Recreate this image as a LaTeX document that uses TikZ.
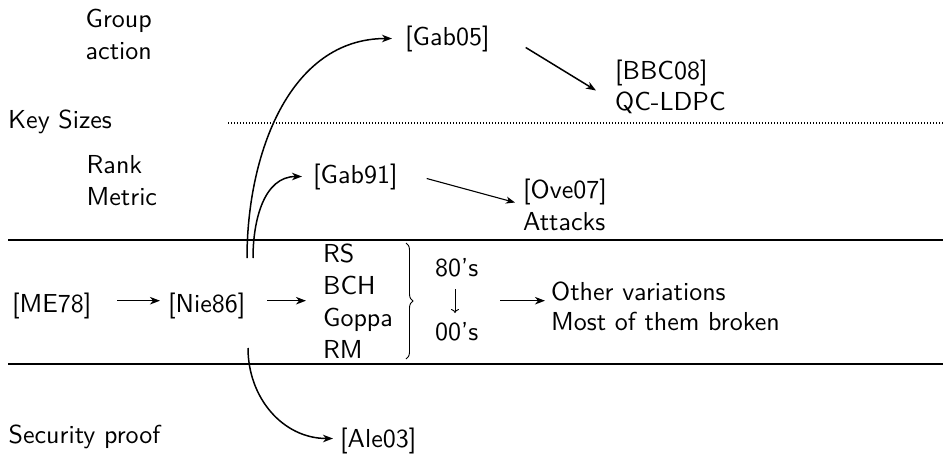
\documentclass[tikz,border=0pt]{standalone}
\usepackage{fontspec}
\setsansfont{lmsans10-regular}[Extension=.otf]
\usetikzlibrary{arrows.meta,decorations.pathreplacing}
\begin{document}
\begin{tikzpicture}[x=1pt,y=-1pt,
  txt/.style={anchor=base west, inner sep=0pt, font=\sffamily\fontsize{26}{31.5}\selectfont},
  arr/.style={line width=1.5pt, -{Stealth[length=10pt,width=7.5pt,inset=3pt]}},
  lightarr/.style={line width=1.1pt, -{Stealth[length=9pt,width=7pt,inset=2.5pt]}},
  downarr/.style={line width=0.9pt, -{To[length=4pt,width=8pt]}},
  rule/.style={line width=2.2pt},
  dotrule/.style={line width=1.4pt, dash pattern=on 1.4pt off 1.6pt},
  bracestyle/.style={line width=0.9pt, decorate, decoration={brace, amplitude=7pt}}]
\useasboundingbox (0,0) rectangle (943,453);

% row labels
\node[txt] (group)  at (85.5,27)  {Group};
\node[txt] (action) at (85.5,59)  {action};
\node[txt] (keys)   at (8,128)  {Key Sizes};
\node[txt] (rank)   at (86.5,173) {Rank};
\node[txt] (metric) at (86.5,205) {Metric};
\node[txt] (sec)    at (8.5,443)  {Security proof};

% separators
\coordinate (dotL) at (228,123);
\coordinate (dotR) at (943,123);
\coordinate (topL) at (8,240);
\coordinate (topR) at (943,240);
\coordinate (botL) at (8,364);
\coordinate (botR) at (943,364);
\draw[dotrule] (dotL) -- (dotR);
\draw[rule] (topL) -- (topR);
\draw[rule] (botL) -- (botR);

% references
\node[txt] (gab05) at (405,45)  {[Gab05]};
\node[txt] (bbc)   at (615,79)  {[BBC08]};
\node[txt] (qc)    at (615,110) {QC-LDPC};
\node[txt] (gab91) at (313,183) {[Gab91]};
\node[txt] (ove)   at (523,198) {[Ove07]};
\node[txt] (att)   at (523,230) {Attacks};
\node[txt] (me)    at (12,312.5)  {[ME78]};
\node[txt] (nie)   at (168,312.5) {[Nie86]};
\node[txt] (ale)   at (340,447) {[Ale03]};

% code families
\node[txt] (rs)    at (323,262.5) {RS};
\node[txt] (bch)   at (323,294.4) {BCH};
\node[txt] (goppa) at (323,326.3) {Goppa};
\node[txt] (rm)    at (323,358.2) {RM};

% period
\node[txt] (eighty) at (435,276) {80'{}s};
\node[txt] (zero)   at (435,340) {00'{}s};
\node[txt] (other)  at (551,300) {Other variations};
\node[txt] (most)   at (551,330) {Most of them broken};

\coordinate (braceT) at (406,243);
\coordinate (braceB) at (406,359);
\draw[bracestyle] (braceT) -- (braceB);

% connectors
\coordinate (meR) at (117,300.7);
\coordinate (nieR) at (267,300.7);
\coordinate (tail) at (500,300.7);
\draw[arr] (meR) -- ([xshift=-8pt]meR -| nie.west);
\draw[arr] (nieR) -- ([xshift=-17pt]nieR -| bch.west);
\draw[arr] (tail) -- ([xshift=-6pt]tail -| other.west);
\draw[downarr] (455,289) -- (455,313);

\draw[arr] ([shift={(36,9)}]gab05.east) -- ([shift={(-19,18)}]bbc.west);
\draw[lightarr] ([shift={(29,2)}]gab91.east) -- ([shift={(-8,11)}]ove.west);

\draw[arr] (247,258) .. controls +(0,-103) and +(-103,0) .. ([shift={(-13,0)}]gab05.west);
\draw[arr] (253,258) .. controls +(0,-38) and +(-38,0) .. ([shift={(-11,0)}]gab91.west);
\draw[arr] (248,348) .. controls +(0,50) and +(-50,0) .. ([shift={(-7,-2)}]ale.west);
\end{tikzpicture}
\end{document}
